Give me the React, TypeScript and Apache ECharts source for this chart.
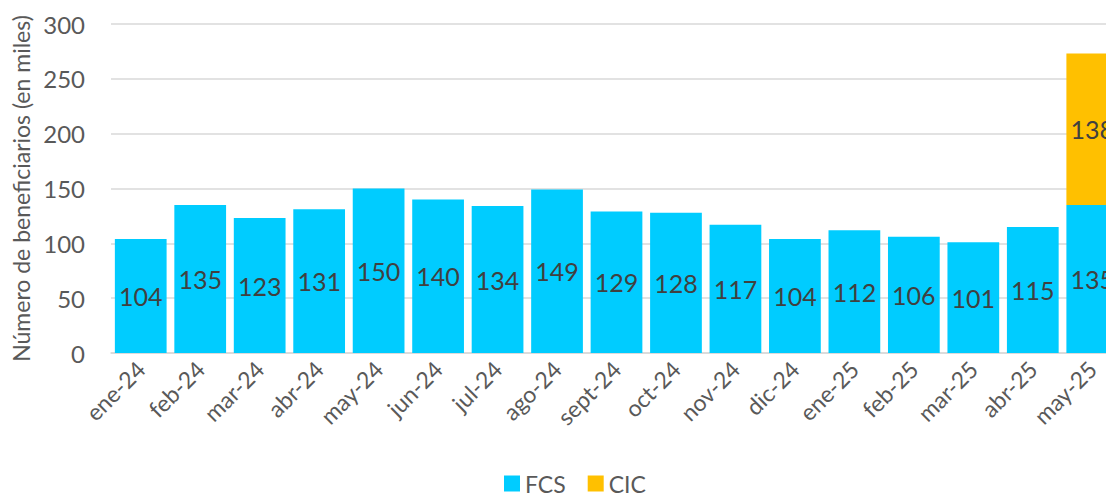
import React, { useEffect, useRef } from "react";
import * as echarts from "echarts";

const categories = ["ene-24","feb-24","mar-24","abr-24","may-24","jun-24","jul-24","ago-24","sept-24","oct-24","nov-24","dic-24","ene-25","feb-25","mar-25","abr-25","may-25"];
const fcs = [104,135,123,131,150,140,134,149,129,128,117,104,112,106,101,115,135];
const cic: (number | null)[] = [null,null,null,null,null,null,null,null,null,null,null,null,null,null,null,null,138];
const yTicks = { min: 0, max: 300, interval: 50 };

const FONT = "Lato, 'Open Sans', sans-serif";

export default function App() {
  const ref = useRef<HTMLDivElement>(null);
  useEffect(() => {
    const chart = echarts.init(ref.current!, null, { renderer: "svg" });
    const labelStyle = {
      show: true,
      position: "inside" as const,
      color: "#404040",
      fontSize: 25,
      fontFamily: FONT,
    };
    chart.setOption({
      animation: false,
      textStyle: { fontFamily: FONT },
      grid: { left: 111, right: 0, top: 24, bottom: 147, containLabel: false },
      legend: {
        data: ["FCS", "CIC"],
        bottom: 0,
        left: 499,
        itemWidth: 16,
        itemHeight: 16,
        itemGap: 22,
        icon: "rect",
        textStyle: { fontSize: 23, color: "#595959", fontFamily: FONT },
      },
      xAxis: {
        type: "category",
        data: categories,
        axisLine: { lineStyle: { color: "#D9D9D9", width: 1.5 } },
        axisTick: { show: false },
        axisLabel: { rotate: 45, fontSize: 23, color: "#595959", margin: 12, interval: 0, fontFamily: FONT },
      },
      yAxis: {
        type: "value",
        min: yTicks.min,
        max: yTicks.max,
        interval: yTicks.interval,
        name: "Número de beneficiarios (en miles)",
        nameLocation: "middle",
        nameGap: 78,
        nameRotate: 90,
        nameTextStyle: { fontSize: 23, color: "#595959", fontFamily: FONT },
        axisLine: { show: false },
        axisTick: { show: false },
        axisLabel: { fontSize: 24, color: "#595959", margin: 26, fontFamily: FONT },
        splitLine: { lineStyle: { color: "#D9D9D9", width: 1.5 } },
      },
      series: [
        {
          name: "FCS",
          type: "bar",
          stack: "total",
          data: fcs,
          barCategoryGap: "13%",
          itemStyle: { color: "#00CCFF" },
          label: labelStyle,
        },
        {
          name: "CIC",
          type: "bar",
          stack: "total",
          data: cic,
          itemStyle: { color: "#FFC000" },
          label: labelStyle,
        },
      ],
    });
    return () => chart.dispose();
  }, []);
  return (
    <div style={{ position: "fixed", left: 0, top: 0, width: 1106, height: 500, overflow: "hidden", background: "#fff" }}>
      <div ref={ref} style={{ width: 1122, height: 500 }} />
    </div>
  );
}
